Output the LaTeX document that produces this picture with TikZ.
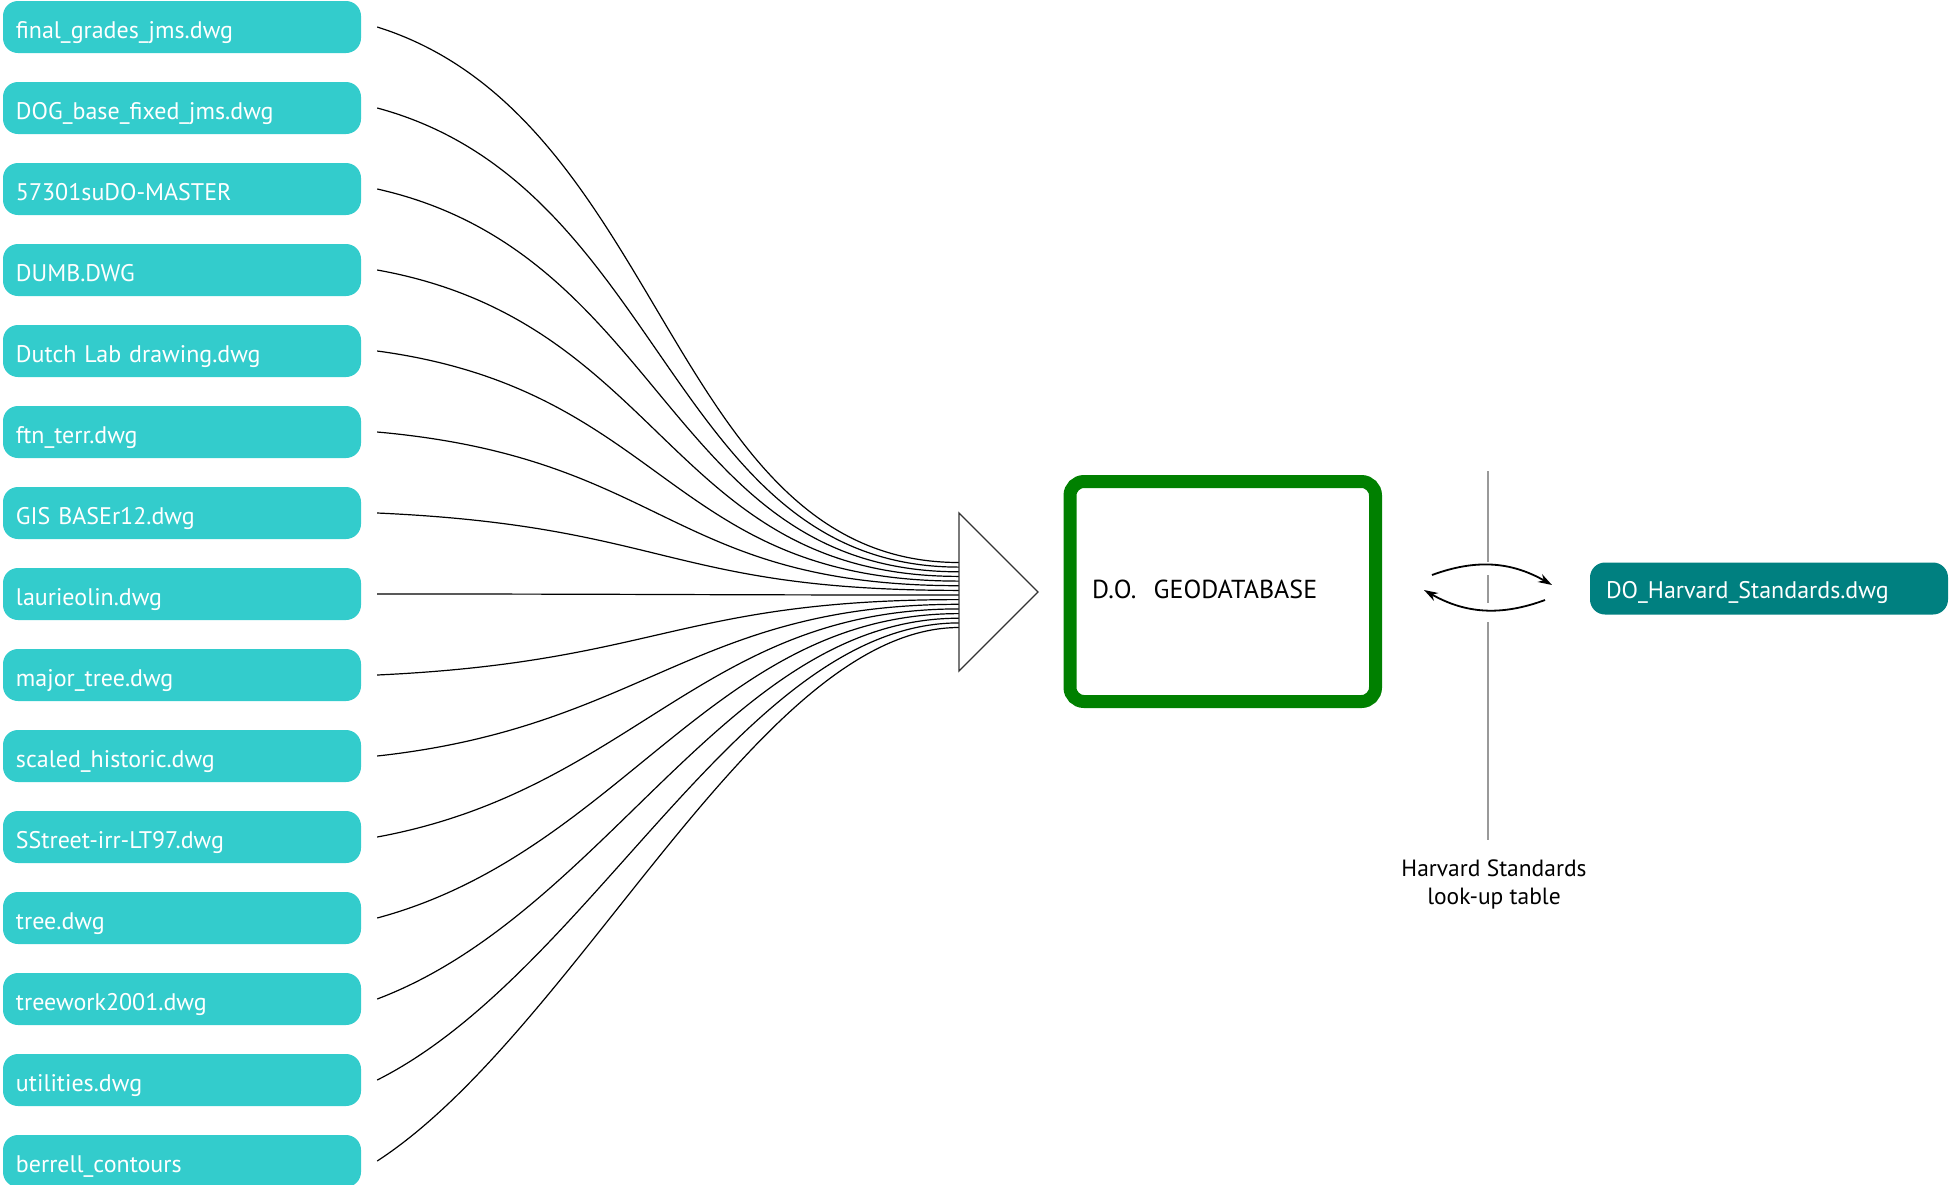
\documentclass[tikz,border=0pt]{standalone}
\usepackage{fontspec}
\setmainfont{PT Sans}
\usepackage{tikz}
\usetikzlibrary{shapes.geometric, arrows.meta, positioning}
\definecolor{dwgcyan}{HTML}{33CCCC}
\definecolor{dwgteal}{HTML}{008080}
\definecolor{geogreen}{HTML}{008000}

\begin{document}
\begin{tikzpicture}[x=1pt, y=1pt, node distance=81pt]
    \tikzstyle{source} = [rectangle, rounded corners=15pt, fill=dwgcyan, text=white, minimum width=358pt, minimum height=52pt, text width=332pt, inner xsep=13pt, align=left, text height=22pt, text depth=0pt, font=\fontsize{24}{28}\selectfont]
    \tikzstyle{target} = [source, fill=dwgteal, text width=326pt, inner xsep=16pt, text height=19pt]
    \tikzstyle{store} = [rectangle, rounded corners=14pt, draw=geogreen, line width=13pt, minimum width=305.5pt, minimum height=220pt, text width=261.5pt, inner xsep=22pt, align=left, text height=13pt, text depth=0pt, font=\fontsize{26}{30}\selectfont]
    \tikzstyle{funnel} = [draw=black!80, line width=1.3pt, fill=white, line join=miter]
    \tikzstyle{note} = [align=center, font=\fontsize{23.5}{28}\selectfont]
    \tikzstyle{feed} = [line width=1.2pt, black]
    \tikzstyle{rule} = [line width=2pt, black!40]
    \tikzstyle{swap} = [line width=1.8pt, ->, >={Stealth[length=14pt, width=9pt]}]

    \useasboundingbox (0,0) rectangle (1949,-1184);

    \node (f1) [source] at (182,-27) {final\_grades\_jms.dwg};
    \node (f2) [source, below of=f1] {DOG\_base\_fixed\_jms.dwg};
    \node (f3) [source, below of=f2] {57301suDO-MASTER};
    \node (f4) [source, below of=f3] {DUMB.DWG};
    \node (f5) [source, below of=f4] {Dutch Lab drawing.dwg};
    \node (f6) [source, below of=f5] {ftn\_terr.dwg};
    \node (f7) [source, below of=f6] {GIS BASEr12.dwg};
    \node (f8) [source, below of=f7] {laurieolin.dwg};
    \node (f9) [source, below of=f8] {major\_tree.dwg};
    \node (f10) [source, below of=f9] {scaled\_historic.dwg};
    \node (f11) [source, below of=f10] {SStreet-irr-LT97.dwg};
    \node (f12) [source, below of=f11] {tree.dwg};
    \node (f13) [source, below of=f12] {treework2001.dwg};
    \node (f14) [source, below of=f13] {utilities.dwg};
    \node (f15) [source, below of=f14] {berrell\_contours};

    \coordinate (mouth) at (959,-592);
    \node (geo) [store] at (1222.75,-591.5) {D.O.\ \ GEODATABASE};
    \node (std) [target] at (1769,-588.5) {DO\_Harvard\_Standards.dwg};
    \node (lut) [note] at (1494,-884) {Harvard Standards\\look-up table};

    % all drawings feed into the funnel
    \draw [feed] ([xshift=16pt]f1.east) .. controls +(290,-91) and +(-290,0) .. ([yshift=29.5pt]mouth);
    \draw [feed] ([xshift=16pt]f2.east) .. controls +(290,-78) and +(-290,0) .. ([yshift=24.9pt]mouth);
    \draw [feed] ([xshift=16pt]f3.east) .. controls +(290,-65) and +(-290,0) .. ([yshift=20.2pt]mouth);
    \draw [feed] ([xshift=16pt]f4.east) .. controls +(290,-52) and +(-290,0) .. ([yshift=15.6pt]mouth);
    \draw [feed] ([xshift=16pt]f5.east) .. controls +(290,-39) and +(-290,0) .. ([yshift=10.9pt]mouth);
    \draw [feed] ([xshift=16pt]f6.east) .. controls +(290,-26) and +(-290,0) .. ([yshift=6.3pt]mouth);
    \draw [feed] ([xshift=16pt]f7.east) .. controls +(290,-13) and +(-290,0) .. ([yshift=1.6pt]mouth);
    \draw [feed] ([xshift=16pt]f8.east) .. controls +(290,0) and +(-290,0) .. ([yshift=-3pt]mouth);
    \draw [feed] ([xshift=16pt]f9.east) .. controls +(280,13) and +(-280,0) .. ([yshift=-7.6pt]mouth);
    \draw [feed] ([xshift=16pt]f10.east) .. controls +(265,29) and +(-265,0) .. ([yshift=-12.3pt]mouth);
    \draw [feed] ([xshift=16pt]f11.east) .. controls +(255,47) and +(-255,0) .. ([yshift=-16.9pt]mouth);
    \draw [feed] ([xshift=16pt]f12.east) .. controls +(245,66) and +(-245,0) .. ([yshift=-21.6pt]mouth);
    \draw [feed] ([xshift=16pt]f13.east) .. controls +(230,87) and +(-230,0) .. ([yshift=-26.2pt]mouth);
    \draw [feed] ([xshift=16pt]f14.east) .. controls +(215,108) and +(-215,0) .. ([yshift=-30.9pt]mouth);
    \draw [feed] ([xshift=16pt]f15.east) .. controls +(200,130) and +(-200,0) .. ([yshift=-35.5pt]mouth);

    % the funnel itself
    \draw [funnel] ([yshift=79pt]mouth) -- ([xshift=79pt]mouth) -- ([yshift=-79pt]mouth) -- cycle;

    % look-up table divider
    \coordinate (g1) at (1488,-471);
    \coordinate (g2) at (1488,-562);
    \coordinate (g3) at (1488,-575);
    \coordinate (g4) at (1488,-603);
    \coordinate (g5) at (1488,-622);
    \coordinate (g6) at (1488,-840);
    \draw [rule] (g1) -- (g2) (g3) -- (g4) (g5) -- (g6);

    % two-way exchange
    \coordinate (a1) at (1432,-575);
    \coordinate (a2) at (1552,-585);
    \coordinate (b1) at (1545,-600);
    \coordinate (b2) at (1424,-590);
    \draw [swap] (a1) to[bend left=25] (a2);
    \draw [swap] (b1) to[bend left=25] (b2);
\end{tikzpicture}
\end{document}
